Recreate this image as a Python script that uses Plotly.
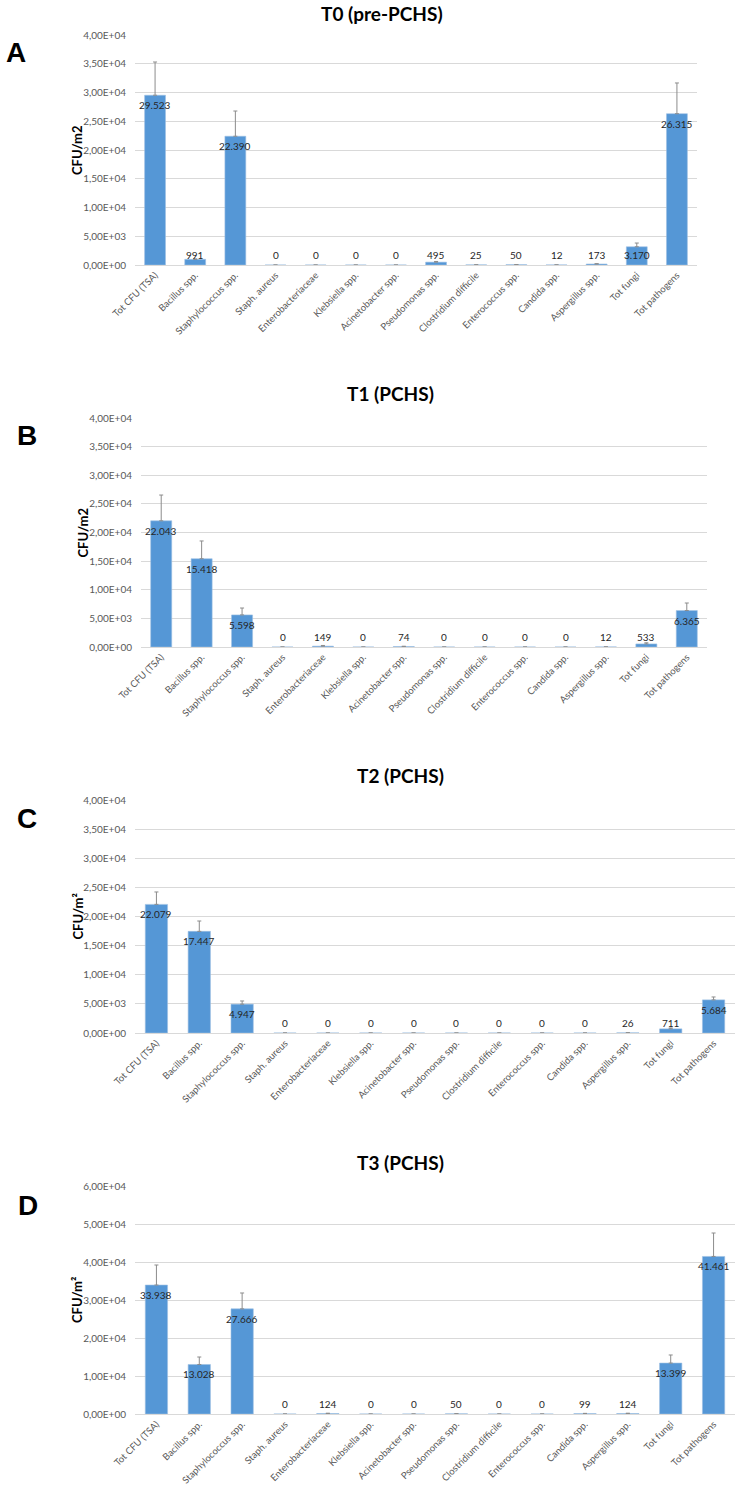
import plotly.graph_objects as go

W, H = 737, 1487

categories = ["Tot CFU (TSA)", "Bacillus spp.", "Staphylococcus spp.", "Staph. aureus",
              "Enterobacteriaceae", "Klebsiella spp.", "Acinetobacter spp.", "Pseudomonas spp.",
              "Clostridium difficile", "Enterococcus spp.", "Candida spp.", "Aspergillus spp.",
              "Tot fungi", "Tot pathogens"]

t0_values = [29523, 991, 22390, 0, 0, 0, 0, 495, 25, 50, 12, 173, 3170, 26315]
t0_errors = [5780, 60, 4390, 0, 0, 0, 0, 120, 10, 20, 5, 60, 650, 5340]

t1_values = [22043, 15418, 5598, 0, 149, 0, 74, 0, 0, 0, 0, 12, 533, 6365]
t1_errors = [4500, 3100, 1210, 0, 120, 0, 60, 0, 0, 0, 0, 8, 200, 1320]

t2_values = [22079, 17447, 4947, 0, 0, 0, 0, 0, 0, 0, 0, 26, 711, 5684]
t2_errors = [2130, 1780, 550, 0, 0, 0, 0, 0, 0, 0, 0, 15, 150, 500]

t3_values = [33938, 13028, 27666, 0, 124, 0, 0, 50, 0, 0, 99, 124, 13399, 41461]
t3_errors = [5270, 1970, 4180, 0, 90, 0, 0, 40, 0, 0, 70, 90, 2130, 6170]

ytick_vals_40 = [0, 5000, 10000, 15000, 20000, 25000, 30000, 35000, 40000]
ytick_text_40 = ["0,00E+00", "5,00E+03", "1,00E+04", "1,50E+04", "2,00E+04",
                 "2,50E+04", "3,00E+04", "3,50E+04", "4,00E+04"]
ytick_vals_60 = [0, 10000, 20000, 30000, 40000, 50000, 60000]
ytick_text_60 = ["0,00E+00", "1,00E+04", "2,00E+04", "3,00E+04", "4,00E+04",
                 "5,00E+04", "6,00E+04"]

titles = ["T0 (pre-PCHS)", "T1 (PCHS)", "T2 (PCHS)", "T3 (PCHS)"]
letters = ["A", "B", "C", "D"]
ytitles = ["CFU/m2", "CFU/m2", "CFU/m²", "CFU/m²"]

# layout (pixels)
panels = [
    dict(vals=t0_values, errs=t0_errors, x0=135, x1=697, y0=35, y1=265, ymax=40000,
         tv=ytick_vals_40, tt=ytick_text_40, title_xy=(382, 14), letter_xy=(16, 52), ytitle_x=77),
    dict(vals=t1_values, errs=t1_errors, x0=141, x1=707, y0=418, y1=647, ymax=40000,
         tv=ytick_vals_40, tt=ytick_text_40, title_xy=(390, 393), letter_xy=(27, 435), ytitle_x=82),
    dict(vals=t2_values, errs=t2_errors, x0=135, x1=735, y0=800, y1=1033, ymax=40000,
         tv=ytick_vals_40, tt=ytick_text_40, title_xy=(400, 775), letter_xy=(27, 818), ytitle_x=77),
    dict(vals=t3_values, errs=t3_errors, x0=135, x1=735, y0=1186, y1=1414, ymax=60000,
         tv=ytick_vals_60, tt=ytick_text_60, title_xy=(400, 1162), letter_xy=(28, 1205), ytitle_x=77),
]

FONT = "Lato"
BAR = "#5597d6"
fig = go.Figure()
annotations = []
layout_axes = {}

def px(x):
    return x / W

def py(y):
    return 1 - y / H

for i, p in enumerate(panels):
    n = "" if i == 0 else str(i + 1)
    xa, ya = "x" + n, "y" + n
    fig.add_trace(go.Bar(
        x=categories, y=p["vals"], xaxis=xa, yaxis=ya,
        marker=dict(color=BAR, line=dict(width=0.6, color="#9dbfe3")),
        error_y=dict(type="data", symmetric=False, array=p["errs"],
                     arrayminus=[0] * len(p["errs"]), color="#8c8c8c", thickness=1, width=2),
        showlegend=False, hoverinfo="x+y",
    ))
    layout_axes["xaxis" + n] = dict(
        domain=[px(p["x0"]), px(p["x1"])], anchor=ya, type="category",
        tickangle=-45, tickfont=dict(family=FONT, size=9.5, color="#595959"),
        showgrid=False, showline=True, linecolor="#d9d9d9", linewidth=1, ticks="",
        zeroline=False, fixedrange=True, automargin=False,
    )
    layout_axes["yaxis" + n] = dict(
        domain=[py(p["y1"]), py(p["y0"])], anchor=xa, range=[0, p["ymax"]],
        tickvals=p["tv"], ticktext=p["tt"], tickfont=dict(family=FONT, size=10, color="#595959"),
        showgrid=True, gridcolor="#d9d9d9", gridwidth=1, zeroline=False, showline=False,
        ticks="", ticklabelstandoff=8, automargin=False, fixedrange=True,
    )
    # value labels
    d = 10 * p["ymax"] / (p["y1"] - p["y0"])
    for c, v in zip(categories, p["vals"]):
        annotations.append(dict(
            x=c, y=max(v - d, d), xref=xa, yref=ya, text=f"{v:,}".replace(",", "."),
            showarrow=False, font=dict(family=FONT, size=10, color="#262626"),
            xanchor="center", yanchor="middle"))
    # title
    annotations.append(dict(x=px(p["title_xy"][0]), y=py(p["title_xy"][1]), xref="paper", yref="paper",
                            text="<b>" + titles[i] + "</b>", showarrow=False,
                            font=dict(family=FONT, size=19, color="#000000"),
                            xanchor="center", yanchor="middle"))
    annotations.append(dict(x=px(p["letter_xy"][0]), y=py(p["letter_xy"][1]), xref="paper", yref="paper",
                            text="<b>" + letters[i] + "</b>", showarrow=False,
                            font=dict(family="Liberation Sans", size=28, color="#000000"),
                            xanchor="center", yanchor="middle"))
    annotations.append(dict(x=px(p["ytitle_x"]), y=py((p["y0"] + p["y1"]) / 2), xref="paper", yref="paper",
                            text="<b>" + ytitles[i] + "</b>", showarrow=False, textangle=-90,
                            font=dict(family=FONT, size=13, color="#000000"),
                            xanchor="center", yanchor="middle"))

fig.update_layout(
    width=W, height=H, margin=dict(l=0, r=0, t=0, b=0, autoexpand=False),
    paper_bgcolor="white", plot_bgcolor="white",
    bargap=0.48, annotations=annotations, **layout_axes,
)

fig.write_html("out.html", config={"displayModeBar": False},
               post_script="document.body.style.margin='0';document.body.style.overflow='hidden';")
